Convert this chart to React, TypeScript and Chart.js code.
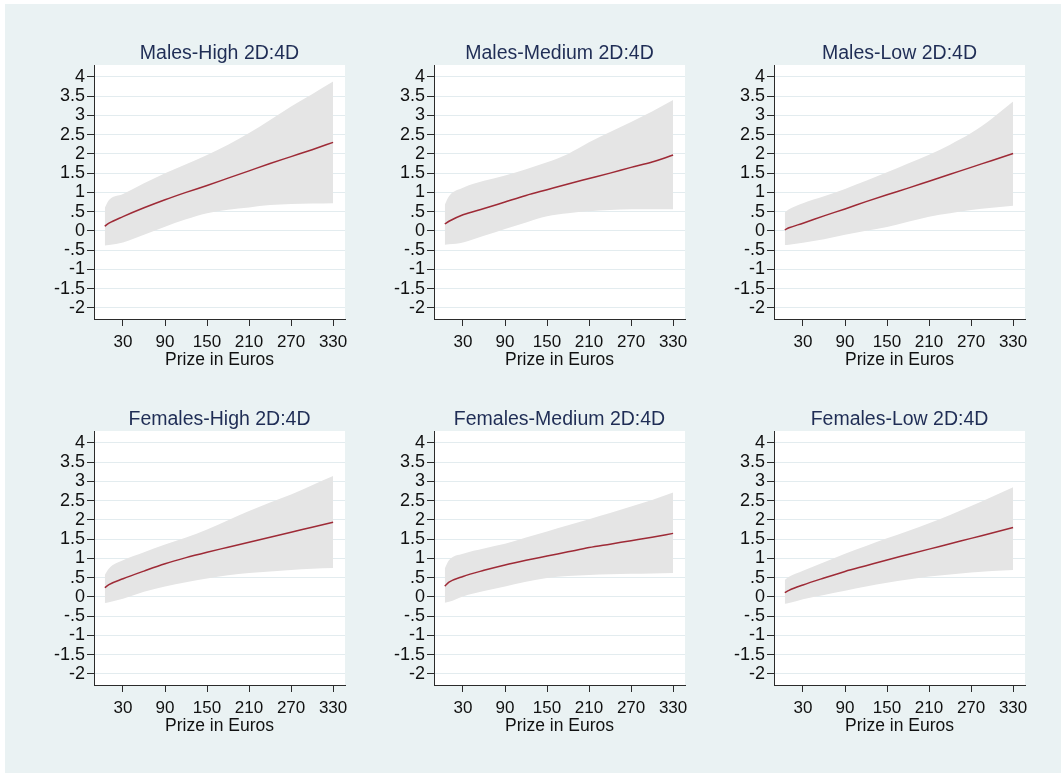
import React, { useEffect, useRef } from "react";
import { Chart, registerables } from "chart.js";

Chart.register(...registerables);

// ---------- data ----------
const X_VALUES = [4, 10, 30, 60, 90, 120, 150, 180, 210, 240, 270, 300, 330];
const X_TICKS = [30, 90, 150, 210, 270, 330];
const Y_TICKS = [-2, -1.5, -1, -0.5, 0, 0.5, 1, 1.5, 2, 2.5, 3, 3.5, 4];
const X_TITLE = "Prize in Euros";

const TITLES = [
  "Males-High 2D:4D",
  "Males-Medium 2D:4D",
  "Males-Low 2D:4D",
  "Females-High 2D:4D",
  "Females-Medium 2D:4D",
  "Females-Low 2D:4D",
];

const MH_FIT = [0.12, 0.2, 0.37, 0.6, 0.81, 1.0, 1.18, 1.37, 1.56, 1.75, 1.93, 2.11, 2.3];
const MH_UPPER = [0.6, 0.8, 0.96, 1.24, 1.5, 1.73, 1.97, 2.24, 2.54, 2.88, 3.23, 3.55, 3.88];
const MH_LOWER = [-0.38, -0.37, -0.3, -0.1, 0.11, 0.3, 0.46, 0.55, 0.61, 0.67, 0.7, 0.71, 0.72];

const MM_FIT = [0.18, 0.25, 0.42, 0.58, 0.75, 0.92, 1.07, 1.22, 1.36, 1.5, 1.65, 1.79, 1.97];
const MM_UPPER = [0.68, 0.9, 1.12, 1.3, 1.44, 1.6, 1.78, 2.0, 2.3, 2.57, 2.83, 3.1, 3.4];
const MM_LOWER = [-0.36, -0.35, -0.3, -0.13, 0.05, 0.22, 0.38, 0.46, 0.51, 0.54, 0.56, 0.56, 0.56];

const ML_FIT = [0.03, 0.08, 0.2, 0.39, 0.57, 0.76, 0.94, 1.11, 1.29, 1.47, 1.65, 1.83, 2.01];
const ML_UPPER = [0.48, 0.56, 0.72, 0.9, 1.09, 1.3, 1.52, 1.75, 1.98, 2.24, 2.54, 2.92, 3.36];
const ML_LOWER = [-0.37, -0.36, -0.31, -0.22, -0.1, 0.0, 0.1, 0.24, 0.37, 0.46, 0.54, 0.6, 0.65];

const FH_FIT = [0.24, 0.32, 0.47, 0.67, 0.86, 1.02, 1.16, 1.29, 1.42, 1.55, 1.68, 1.81, 1.94];
const FH_UPPER = [0.57, 0.74, 0.95, 1.16, 1.36, 1.54, 1.75, 1.99, 2.23, 2.45, 2.66, 2.9, 3.14];
const FH_LOWER = [-0.16, -0.14, -0.05, 0.13, 0.27, 0.38, 0.48, 0.56, 0.62, 0.66, 0.7, 0.73, 0.75];

const FM_FIT = [0.28, 0.38, 0.53, 0.69, 0.83, 0.95, 1.06, 1.17, 1.28, 1.37, 1.46, 1.55, 1.65];
const FM_UPPER = [0.74, 0.95, 1.12, 1.26, 1.38, 1.54, 1.7, 1.86, 2.02, 2.18, 2.35, 2.52, 2.71];
const FM_LOWER = [-0.15, -0.13, 0.01, 0.15, 0.27, 0.39, 0.49, 0.54, 0.57, 0.59, 0.6, 0.61, 0.62];

const FL_FIT = [0.11, 0.17, 0.31, 0.49, 0.66, 0.81, 0.96, 1.1, 1.24, 1.38, 1.52, 1.66, 1.8];
const FL_UPPER = [0.44, 0.52, 0.68, 0.9, 1.12, 1.32, 1.52, 1.71, 1.91, 2.13, 2.36, 2.6, 2.85];
const FL_LOWER = [-0.18, -0.16, -0.06, 0.05, 0.16, 0.27, 0.37, 0.45, 0.53, 0.58, 0.63, 0.67, 0.7];

const PANELS = [
  { fit: MH_FIT, upper: MH_UPPER, lower: MH_LOWER },
  { fit: MM_FIT, upper: MM_UPPER, lower: MM_LOWER },
  { fit: ML_FIT, upper: ML_UPPER, lower: ML_LOWER },
  { fit: FH_FIT, upper: FH_UPPER, lower: FH_LOWER },
  { fit: FM_FIT, upper: FM_UPPER, lower: FM_LOWER },
  { fit: FL_FIT, upper: FL_UPPER, lower: FL_LOWER },
];

// ---------- style ----------
const FONT = "'Liberation Sans', Arial, Helvetica, sans-serif";
const PAGE_BG = "#EAF2F3";
const BAND = "#E5E5E5";
const LINE = "#9E2A36";
const GRID = "#E3ECEF";
const AXIS = "#2B2B2B";
const TITLE_COLOR = "#1F2D55";

const CANVAS_W = 340;
const CANVAS_H = 355;

function fmt(v: number): string {
  if (v === 0) return "0";
  const a = Math.abs(v);
  const s = a < 1 ? String(a).replace(/^0/, "") : String(a);
  return (v < 0 ? "-" : "") + s;
}

const panelPlugin = {
  id: "panelDecor",
  beforeDraw(chart: any) {
    const { ctx, chartArea } = chart;
    ctx.save();
    ctx.fillStyle = "#FFFFFF";
    ctx.fillRect(chartArea.left, chartArea.top, chartArea.right - chartArea.left, chartArea.bottom - chartArea.top);
    ctx.restore();
  },
  afterDraw(chart: any, _args: any, opts: any) {
    const { ctx, chartArea } = chart;
    ctx.save();
    ctx.fillStyle = TITLE_COLOR;
    ctx.font = `19.5px ${FONT}`;
    ctx.textAlign = "center";
    ctx.textBaseline = "middle";
    ctx.fillText(opts.text, (chartArea.left + chartArea.right) / 2, 34);
    ctx.restore();
  },
};

function Panel({ title, fit, upper, lower, left, top }: any) {
  const ref = useRef<HTMLCanvasElement | null>(null);
  useEffect(() => {
    if (!ref.current) return;
    const pts = (arr: number[]) => arr.map((y, i) => ({ x: X_VALUES[i], y }));
    const chart = new Chart(ref.current, {
      type: "line",
      data: {
        datasets: [
          {
            data: pts(upper),
            fill: 1,
            backgroundColor: BAND,
            borderColor: "rgba(0,0,0,0)",
            borderWidth: 0,
            pointRadius: 0,
            cubicInterpolationMode: "monotone",
          },
          {
            data: pts(lower),
            fill: false,
            borderColor: "rgba(0,0,0,0)",
            borderWidth: 0,
            pointRadius: 0,
            cubicInterpolationMode: "monotone",
          },
          {
            data: pts(fit),
            fill: false,
            borderColor: LINE,
            borderWidth: 1.5,
            pointRadius: 0,
            cubicInterpolationMode: "monotone",
          },
        ],
      } as any,
      options: {
        responsive: false,
        animation: false,
        events: [],
        layout: { padding: { left: 0, right: 5, top: 45, bottom: 0 } },
        plugins: {
          legend: { display: false },
          tooltip: { enabled: false },
          title: { display: false },
          filler: { drawTime: "beforeDatasetsDraw" },
          panelDecor: { text: title },
        } as any,
        scales: {
          x: {
            type: "linear",
            min: -11.4,
            max: 347,
            afterBuildTicks: (s: any) => {
              s.ticks = X_TICKS.map((v) => ({ value: v }));
            },
            afterFit: (s: any) => {
              s.height = 56;
              s.paddingLeft = 0;
              s.paddingRight = 0;
            },
            grid: { drawOnChartArea: false, tickLength: 7, tickColor: AXIS, tickWidth: 1 },
            border: { display: true, color: AXIS, width: 1 },
            ticks: {
              color: "#111",
              font: { family: FONT, size: 17 },
              padding: 6,
              maxRotation: 0,
              autoSkip: false,
              callback: (v: any) => String(v),
            },
            title: {
              display: true,
              text: X_TITLE,
              color: "#111",
              font: { family: FONT, size: 17.5 },
              padding: { top: 0, bottom: 4 },
            },
          },
          y: {
            type: "linear",
            min: -2.29,
            max: 4.31,
            afterBuildTicks: (s: any) => {
              s.ticks = Y_TICKS.map((v) => ({ value: v }));
            },
            afterFit: (s: any) => {
              s.width = 84;
              s.paddingTop = 0;
              s.paddingBottom = 0;
            },
            grid: { color: GRID, lineWidth: 1, tickLength: 7, tickColor: AXIS, tickWidth: 1 },
            border: { display: true, color: AXIS, width: 1 },
            ticks: {
              color: "#111",
              font: { family: FONT, size: 18 },
              padding: 2,
              autoSkip: false,
              callback: (v: any) => fmt(Number(v)),
            },
          },
        },
      } as any,
      plugins: [panelPlugin],
    });
    return () => chart.destroy();
  }, []);
  return (
    <canvas
      ref={ref}
      width={CANVAS_W}
      height={CANVAS_H}
      style={{ position: "absolute", left, top, width: CANVAS_W, height: CANVAS_H }}
    />
  );
}

export default function App() {
  return (
    <div style={{ position: "fixed", left: 0, top: 0, width: 1061, height: 775, background: "#FFFFFF" }}>
      <div style={{ position: "absolute", left: 5, top: 4, width: 1056, height: 769, background: PAGE_BG }} />
      {PANELS.map((p, i) => {
        const col = i % 3;
        const row = Math.floor(i / 3);
        return (
          <Panel
            key={i}
            title={TITLES[i]}
            fit={p.fit}
            upper={p.upper}
            lower={p.lower}
            left={10 + col * 340}
            top={20 + row * 366}
          />
        );
      })}
    </div>
  );
}
